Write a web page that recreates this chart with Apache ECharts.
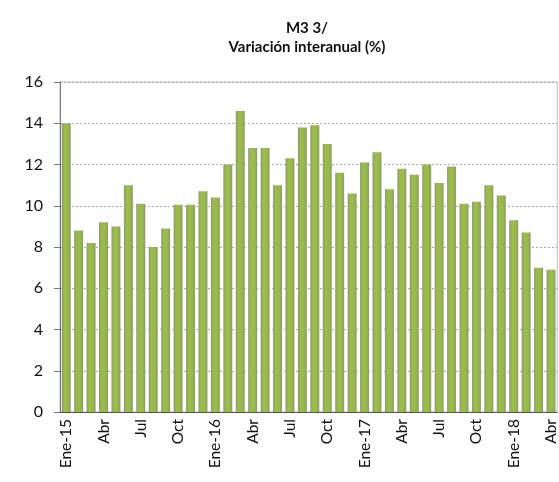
<!DOCTYPE html>
<html>
<head>
<meta charset="utf-8">
<script src="https://cdn.jsdelivr.net/npm/echarts@6/dist/echarts.min.js"></script>
<style>
  html, body { margin: 0; padding: 0; background: #fff; }
  #chart { width: 559px; height: 482px; }
</style>
</head>
<body>
<div id="chart"></div>
<script>
const months = [
  'Ene-15', 'Feb', 'Mar', 'Abr', 'May', 'Jun', 'Jul', 'Ago', 'Sep', 'Oct', 'Nov', 'Dic',
  'Ene-16', 'Feb', 'Mar', 'Abr', 'May', 'Jun', 'Jul', 'Ago', 'Sep', 'Oct', 'Nov', 'Dic',
  'Ene-17', 'Feb', 'Mar', 'Abr', 'May', 'Jun', 'Jul', 'Ago', 'Sep', 'Oct', 'Nov', 'Dic',
  'Ene-18', 'Feb', 'Mar', 'Abr',
]
const m3Values = [
  14.0, 8.8, 8.2, 9.2, 9.0, 11.0, 10.1, 8.0, 8.9, 10.05, 10.05, 10.7,
  10.4, 12.0, 14.6, 12.8, 12.8, 11.0, 12.3, 13.8, 13.9, 13.0, 11.6, 10.6,
  12.1, 12.6, 10.8, 11.8, 11.5, 12.0, 11.1, 11.9, 10.1, 10.2, 11.0, 10.5,
  9.3, 8.7, 7.0, 6.9,
]
const yTicks = { min: 0, max: 16, interval: 2 }

const chart = echarts.init(document.getElementById('chart'))

chart.setOption({
  animation: false,
  backgroundColor: '#fff',
  title: {
    text: 'M3 3/\nVariación interanual (%)',
    left: 302,
    top: 14,
    textAlign: 'center',
    textStyle: {
      fontFamily: 'Lato',
      fontWeight: 'bold',
      fontSize: 15,
      lineHeight: 19,
      color: '#111',
    },
  },
  grid: {
    left: 60,
    right: 1,
    top: 82,
    bottom: 70,
    show: true,
    borderColor: '#bdbdbd',
    borderWidth: 1,
  },
  xAxis: {
    type: 'category',
    data: months,
    axisLine: { lineStyle: { color: '#555' } },
    axisTick: {
      interval: 0,
      length: 5,
      lineStyle: { color: '#333' },
    },
    axisLabel: {
      interval: 2,
      rotate: 90,
      margin: 7,
      fontFamily: 'Lato',
      fontSize: 15.5,
      color: '#111',
    },
  },
  yAxis: {
    type: 'value',
    min: yTicks.min,
    max: yTicks.max,
    interval: yTicks.interval,
    axisLine: { show: true, lineStyle: { color: '#777' } },
    axisTick: { show: true, length: 6, lineStyle: { color: '#777' } },
    axisLabel: {
      margin: 17,
      fontFamily: 'Lato',
      fontSize: 16,
      color: '#111',
    },
    splitLine: {
      lineStyle: { color: '#aaa', type: [2, 2], width: 1 },
    },
  },
  series: [
    {
      type: 'bar',
      data: m3Values,
      barCategoryGap: '28%',
      itemStyle: {
        color: new echarts.graphic.LinearGradient(0, 0, 1, 0, [
          { offset: 0, color: '#8c9a70' },
          { offset: 0.3, color: '#9cbd4a' },
          { offset: 0.7, color: '#99b94a' },
          { offset: 1, color: '#8a986c' },
        ]),
      },
    },
  ],
})
</script>
</body>
</html>
